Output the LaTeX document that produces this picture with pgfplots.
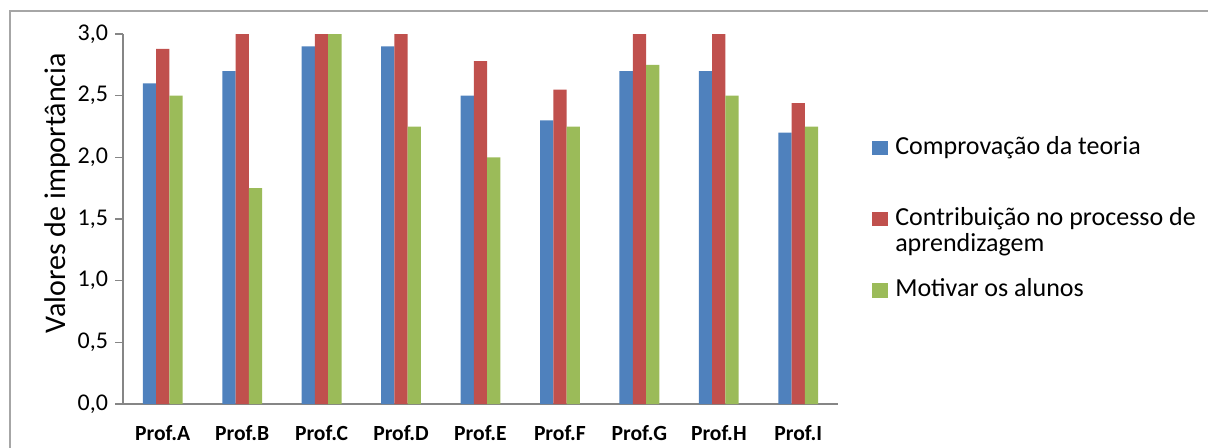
\documentclass[border=0pt]{standalone}
\usepackage{pgfplots}
\pgfplotsset{compat=1.18}
\usepackage{fontspec}
\setmainfont{Carlito}
\definecolor{cblue}{HTML}{4F81BD}
\definecolor{cred}{HTML}{C0504D}
\definecolor{cgreen}{HTML}{9BBB59}
\definecolor{frame}{HTML}{A6A6A6}
\definecolor{axisgray}{HTML}{868686}
\begin{document}
\begin{tikzpicture}
\useasboundingbox (0,0) rectangle (604pt,223.5pt);
\draw[frame, line width=0.7pt] (5pt,-20pt) rectangle (640pt,218pt);
\begin{axis}[
  at={(61.5pt,21.5pt)}, anchor=south west,
  scale only axis, width=357.5pt, height=185pt,
  xmin=-0.5, xmax=8.5, ymin=0, ymax=3,
  ybar=0pt, bar width=0.167,
  xtick={0,...,8},
  xticklabels={Prof.A,Prof.B,Prof.C,Prof.D,Prof.E,Prof.F,Prof.G,Prof.H,Prof.I},
  x tick label style={font=\fontsize{10.8}{12}\selectfont\bfseries, yshift=-3pt},
  ytick={0,0.5,1,1.5,2,2.5,3},
  y tick label style={font=\fontsize{12}{12}\selectfont},
  /pgf/number format/.cd, fixed, fixed zerofill, precision=1, use comma, assume math mode=true, /pgfplots/.cd,
  axis x line*=bottom, axis y line*=left,
  y axis line style={axisgray, line width=0.6pt},
  x axis line style={axisgray, line width=0.6pt},
  major x tick style={draw=none},
  major y tick style={axisgray, line width=0.6pt},
  tick align=outside, major tick length=4pt,
  ylabel={Valores de importância},
  ylabel style={at={(ticklabel cs:0.57)}, font=\fontsize{15}{16}\selectfont},
  ylabel shift=-3pt,
  legend style={at={(axis description cs:1.039,0.745)}, anchor=north west, draw=none, fill=none,
    font=\fontsize{13}{12.5}\selectfont, row sep=21pt, column sep=1.5pt,
    nodes={anchor=base west}},
  legend image code/.code={\path[#1,draw=none] (0pt,-0.3pt) rectangle (8pt,7pt);},
]
\addplot[fill=cblue, draw=none] coordinates {(0,2.6) (1,2.7) (2,2.9) (3,2.9) (4,2.5) (5,2.3) (6,2.7) (7,2.7) (8,2.2)};
\addlegendentry{Comprovação da teoria\rule[-22pt]{0pt}{0pt}}
\addplot[fill=cred, draw=none] coordinates {(0,2.88) (1,3.0) (2,3.0) (3,3.0) (4,2.78) (5,2.55) (6,3.0) (7,3.0) (8,2.44)};
\addlegendentry{\begin{tabular}[t]{@{}l@{}}Contribuição no processo de\\aprendizagem\end{tabular}}
\addplot[fill=cgreen, draw=none] coordinates {(0,2.5) (1,1.75) (2,3.0) (3,2.25) (4,2.0) (5,2.25) (6,2.75) (7,2.5) (8,2.25)};
\addlegendentry{Motivar os alunos}
\end{axis}
\end{tikzpicture}
\end{document}
